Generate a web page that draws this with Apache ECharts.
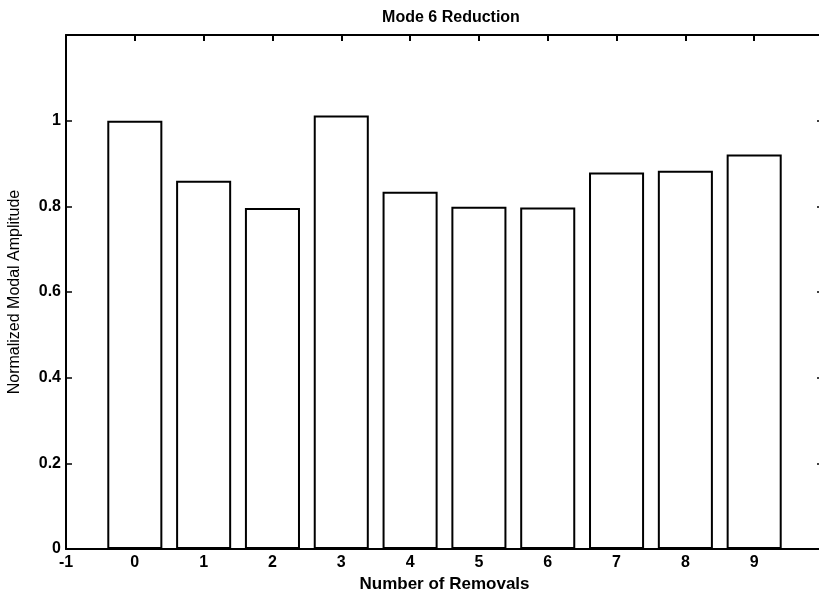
<!DOCTYPE html>
<html><head><meta charset="utf-8">
<script src="https://cdn.jsdelivr.net/npm/echarts@6/dist/echarts.min.js"></script>
<style>html,body{margin:0;padding:0;background:#fff;}#c{width:819px;height:594px;}</style>
</head><body><div id="c"></div>
<script>
var categories = [0, 1, 2, 3, 4, 5, 6, 7, 8, 9];
var amplitudes = [1.0, 0.860, 0.796, 1.012, 0.834, 0.799, 0.797, 0.879, 0.883, 0.921];
var yTickLabels = ['0', '0.2', '0.4', '0.6', '0.8', '1'];

var chart = echarts.init(document.getElementById('c'));
var gridLeft = 66, gridRight = -4, gridTop = 35, gridBottom = 45;
var plotW = 819 - gridLeft - gridRight;
var barW = 0.8 * plotW / 11;
var font = 'Liberation Sans, Arial, Helvetica, sans-serif';
var data = categories.map(function (c, i) { return [c, amplitudes[i]]; });

chart.setOption({
  animation: false,
  backgroundColor: '#fff',
  title: {
    text: 'Mode 6 Reduction', left: 446, top: 5, textAlign: 'center',
    textStyle: { fontFamily: font, fontWeight: 'bold', fontSize: 16, color: '#000' }
  },
  grid: { left: gridLeft, right: gridRight, top: gridTop, bottom: gridBottom, containLabel: false, outerBoundsMode: 'none' },
  xAxis: [{
    type: 'value', min: -1, max: 10, interval: 1, position: 'bottom',
    name: 'Number of Removals', nameLocation: 'middle', nameGap: 25,
    nameTextStyle: { fontFamily: font, fontWeight: 'bold', fontSize: 17, color: '#000' },
    axisLine: { show: true, onZero: false, lineStyle: { color: '#000', width: 2 } },
    axisTick: { show: true, inside: true, length: 6, lineStyle: { color: '#000', width: 2 } },
    axisLabel: { fontFamily: font, fontWeight: 'bold', fontSize: 16, color: '#000', margin: 6,
      formatter: function (v) { return v >= 10 ? '' : String(v); } },
    splitLine: { show: false }
  }, {
    type: 'value', min: -1, max: 10, interval: 1, position: 'top',
    axisLine: { show: true, onZero: false, lineStyle: { color: '#000', width: 2 } },
    axisTick: { show: true, inside: true, length: 6, lineStyle: { color: '#000', width: 2 } },
    axisLabel: { show: false }, splitLine: { show: false }
  }],
  yAxis: [{
    type: 'value', min: 0, max: 1.2, interval: 0.2, position: 'left',
    name: 'Normalized Modal Amplitude', nameLocation: 'middle', nameGap: 43, nameRotate: 90,
    nameTextStyle: { fontFamily: font, fontSize: 16, color: '#000' },
    axisLine: { show: true, onZero: false, lineStyle: { color: '#000', width: 2 } },
    axisTick: { show: true, inside: true, length: 6, lineStyle: { color: '#000', width: 1.5 } },
    axisLabel: { fontFamily: font, fontWeight: 'bold', fontSize: 16, color: '#000', margin: 5,
      formatter: function (v) { var i = Math.round(v / 0.2); return i < yTickLabels.length ? yTickLabels[i] : ''; } },
    splitLine: { show: false }
  }, {
    type: 'value', min: 0, max: 1.2, interval: 0.2, position: 'right',
    axisLine: { show: true, onZero: false, lineStyle: { color: '#000', width: 2 } },
    axisTick: { show: true, inside: true, length: 6, lineStyle: { color: '#000', width: 1.5 } },
    axisLabel: { show: false }, splitLine: { show: false }
  }],
  series: [{
    type: 'bar', xAxisIndex: 0, yAxisIndex: 0, data: data, barWidth: barW,
    itemStyle: { color: '#fff', borderColor: '#000', borderWidth: 2 }
  }]
});
</script></body></html>
